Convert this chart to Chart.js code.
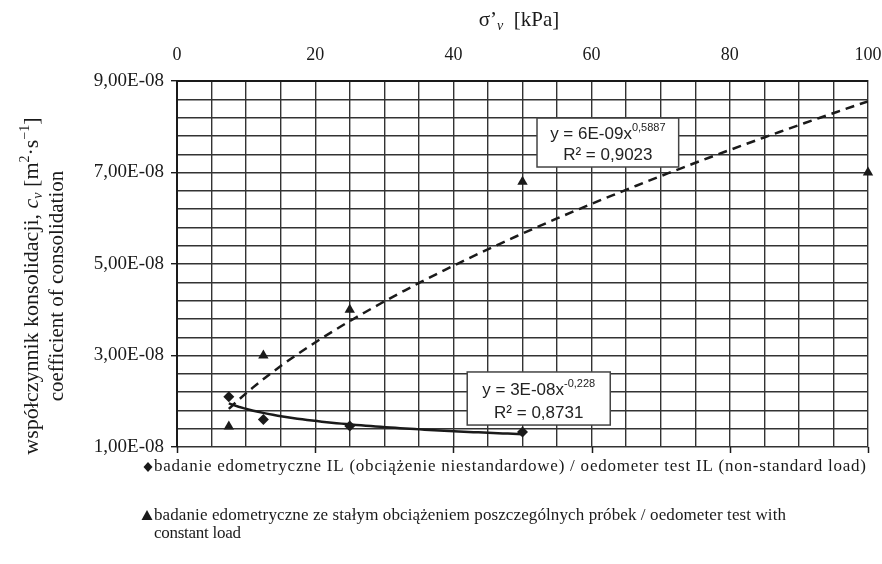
<!DOCTYPE html>
<html><head><meta charset="utf-8">
<script src="https://cdn.jsdelivr.net/npm/chart.js@4.4.1/dist/chart.umd.min.js"></script>
<style>html,body{margin:0;padding:0;background:#fff}#wrap{width:882px;height:564px}</style>
</head><body><div id="wrap"><canvas id="c" width="882" height="564"></canvas></div>
<script>
// ---- data ----
const ilX = [7.5, 12.5, 25, 50];
const ilY = [2.1e-8, 1.6e-8, 1.46e-8, 1.33e-8];
const clX = [7.5, 12.5, 25, 50, 100];
const clY = [1.45e-8, 3.0e-8, 4.0e-8, 6.8e-8, 7.0e-8];
const xMajorLabels = ['0', '20', '40', '60', '80', '100'];
const yMajorLabels = ['1,00E-08', '3,00E-08', '5,00E-08', '7,00E-08', '9,00E-08'];
const legendIL = 'badanie edometryczne IL (obciążenie niestandardowe) / oedometer test IL (non-standard load)';
const legendCL = ['badanie edometryczne ze stałym obciążeniem poszczególnych próbek / oedometer test with', 'constant load'];
const trendCL = {eq: 'y = 6E-09x', exp: '0,5887', r2: 'R² = 0,9023'};
const trendIL = {eq: 'y = 3E-08x', exp: '-0,228', r2: 'R² = 0,8731'};

// power trendline (least squares in log space, like a spreadsheet trendline)
function powerFit(xs, ys) {
  const lx = xs.map(Math.log), ly = ys.map(Math.log);
  const n = xs.length;
  const mx = lx.reduce((a, b) => a + b) / n, my = ly.reduce((a, b) => a + b) / n;
  let sxy = 0, sxx = 0;
  for (let i = 0; i < n; i++) { sxy += (lx[i] - mx) * (ly[i] - my); sxx += (lx[i] - mx) ** 2; }
  const b = sxy / sxx, a = Math.exp(my - b * mx);
  return {a, b};
}
function trendPoints(xs, ys, steps) {
  const f = powerFit(xs, ys);
  const x0 = Math.min(...xs), x1 = Math.max(...xs);
  const pts = [];
  for (let i = 0; i <= steps; i++) {
    const x = x0 + (x1 - x0) * i / steps;
    pts.push({x, y: f.a * Math.pow(x, f.b)});
  }
  return pts;
}

const SERIF = '"Liberation Serif", "Times New Roman", serif';
const SANS = '"Liberation Sans", Arial, sans-serif';
const INK = '#1a1a1a';

function richWidth(ctx, segs) {
  let w = 0;
  for (const s of segs) { ctx.font = s.font; w += ctx.measureText(s.t).width; }
  return w;
}
function drawRich(ctx, segs, x, y) {
  let cx = x - richWidth(ctx, segs) / 2;
  ctx.textAlign = 'left'; ctx.textBaseline = 'alphabetic';
  for (const s of segs) {
    ctx.font = s.font;
    ctx.fillText(s.t, cx, y + (s.dy || 0));
    cx += ctx.measureText(s.t).width;
  }
}
// text stretched to a given width by spreading letters (the legend is set loosely)
function drawSpread(ctx, text, x, y, width) {
  const chars = [...text];
  const natural = ctx.measureText(text).width;
  const extra = (width - natural) / (chars.length - 1);
  let cx = x;
  for (const ch of chars) {
    ctx.fillText(ch, cx, y);
    cx += ctx.measureText(ch).width + extra;
  }
}
function drawMarker(ctx, kind, x, y) {
  ctx.beginPath();
  if (kind === 'd') {
    ctx.moveTo(x, y - 5); ctx.lineTo(x + 4.5, y); ctx.lineTo(x, y + 5); ctx.lineTo(x - 4.5, y);
  } else {
    ctx.moveTo(x, y - 6); ctx.lineTo(x + 5.5, y + 4); ctx.lineTo(x - 5.5, y + 4);
  }
  ctx.closePath(); ctx.fill();
}

const extras = {
  id: 'extras',
  afterDraw(chart) {
    const ctx = chart.ctx, xs = chart.scales.x, ys = chart.scales.y;
    const area = chart.chartArea;
    ctx.save();
    ctx.fillStyle = INK; ctx.strokeStyle = INK;
    // bottom tick marks of x axis (major)
    ctx.lineWidth = 1.5;
    [0, 20, 40, 60, 80, 100].forEach(v => {
      const px = Math.round(xs.getPixelForValue(v)) + 0.5;
      ctx.beginPath(); ctx.moveTo(px, area.bottom); ctx.lineTo(px, area.bottom + 6); ctx.stroke();
    });
    // top title
    drawRich(ctx, [
      {t: 'σ’', font: '21px ' + SERIF},
      {t: 'v', font: 'italic 14px ' + SERIF, dy: 4},
      {t: '  [kPa]', font: '21px ' + SERIF}
    ], 519, 26);
    // y title (rotated)
    ctx.save();
    ctx.translate(38, 286); ctx.rotate(-Math.PI / 2);
    drawRich(ctx, [
      {t: 'współczynnik konsolidacji, ', font: '22px ' + SERIF},
      {t: 'c', font: 'italic 22px ' + SERIF},
      {t: 'v', font: 'italic 14px ' + SERIF, dy: 4},
      {t: ' [m', font: '22px ' + SERIF},
      {t: '2', font: '14px ' + SERIF, dy: -9},
      {t: '·s', font: '22px ' + SERIF},
      {t: '−1', font: '14px ' + SERIF, dy: -9},
      {t: ']', font: '22px ' + SERIF}
    ], 0, 0);
    drawRich(ctx, [{t: 'coefficient of consolidation', font: '21px ' + SERIF}], 0, 25);
    ctx.restore();
    // trend boxes
    const boxes = [
      {tr: trendCL, x0: 52.1, x1: 72.6, y0: 8.19e-8, y1: 7.12e-8},
      {tr: trendIL, x0: 42.0, x1: 62.7, y0: 2.64e-8, y1: 1.48e-8}
    ];
    boxes.forEach(b => {
      const l = xs.getPixelForValue(b.x0), r = xs.getPixelForValue(b.x1);
      const t = ys.getPixelForValue(b.y0), bt = ys.getPixelForValue(b.y1);
      ctx.fillStyle = '#fff';
      ctx.fillRect(l, t, r - l, bt - t);
      ctx.strokeStyle = '#444'; ctx.lineWidth = 1.5;
      ctx.strokeRect(l, t, r - l, bt - t);
      ctx.fillStyle = '#222';
      const cx = (l + r) / 2, h = bt - t;
      drawRich(ctx, [
        {t: b.tr.eq, font: '17px ' + SANS},
        {t: b.tr.exp, font: '11px ' + SANS, dy: -8}
      ], cx, t + h * 0.43);
      drawRich(ctx, [{t: b.tr.r2, font: '17px ' + SANS}], cx, t + h * 0.86);
    });
    // legend
    ctx.fillStyle = INK;
    ctx.font = '17px ' + SERIF;
    ctx.textAlign = 'left'; ctx.textBaseline = 'middle';
    drawMarker(ctx, 'd', 148, 467);
    drawSpread(ctx, legendIL, 154, 467, 712);
    drawMarker(ctx, 't', 147, 516);
    drawSpread(ctx, legendCL[0], 154, 516, 632);
    drawSpread(ctx, legendCL[1], 154, 534, 87);
    ctx.restore();
  }
};

new Chart(document.getElementById('c'), {
  type: 'scatter',
  data: {
    datasets: [
      {label: legendIL, data: ilX.map((x, i) => ({x, y: ilY[i]})), pointStyle: 'rectRot', pointRadius: 5.5,
       backgroundColor: INK, borderColor: INK, borderWidth: 0, clip: false},
      {label: legendCL.join(' '), data: clX.map((x, i) => ({x, y: clY[i]})), pointStyle: 'triangle', pointRadius: 6,
       backgroundColor: INK, borderColor: INK, borderWidth: 0, clip: false},
      {label: 'trend IL', data: trendPoints(ilX, ilY, 60), showLine: true, pointRadius: 0,
       borderColor: INK, borderWidth: 2.5, fill: false},
      {label: 'trend CL', data: trendPoints(clX, clY, 80), showLine: true, pointRadius: 0,
       borderColor: INK, borderWidth: 2.5, borderDash: [9, 6], fill: false}
    ]
  },
  options: {
    responsive: false, animation: false, devicePixelRatio: 1,
    layout: {padding: {left: 0, right: 14, top: 0, bottom: 117}},
    plugins: {legend: {display: false}, tooltip: {enabled: false}},
    scales: {
      x: {
        type: 'linear', position: 'top', min: 0, max: 100,
        afterFit(s) { s.height = 81; s.paddingRight = 0; s.paddingLeft = 0; },
        ticks: {stepSize: 5, autoSkip: false, maxRotation: 0, padding: 15, color: INK,
                font: {family: SERIF, size: 18},
                callback: (v, i) => (i % 4 === 0 ? xMajorLabels[i / 4] : '')},
        grid: {color: '#333', lineWidth: 1.4, drawTicks: false},
        border: {display: true, color: INK, width: 2}
      },
      y: {
        type: 'linear', min: 1e-8, max: 9e-8,
        afterFit(s) { s.width = 177; s.paddingTop = 0; s.paddingBottom = 0; },
        ticks: {stepSize: 0.4e-8, autoSkip: false, padding: 7, color: INK,
                font: {family: SERIF, size: 19},
                callback: (v, i) => (i % 5 === 0 ? yMajorLabels[i / 5] : '')},
        grid: {color: '#333', lineWidth: 1.4, tickLength: 6,
               tickColor: c => (c.index % 5 === 0 ? INK : 'rgba(0,0,0,0)')},
        border: {display: true, color: INK, width: 2}
      }
    }
  },
  plugins: [extras]
});
</script></body></html>
